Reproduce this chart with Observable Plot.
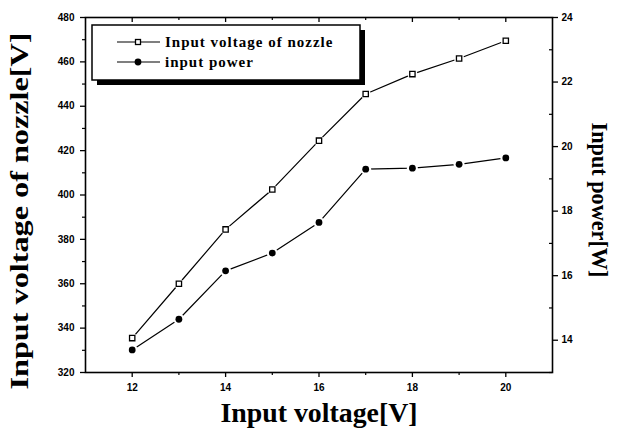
<!DOCTYPE html>
<html><head><meta charset="utf-8">
<script src="https://cdn.jsdelivr.net/npm/d3@7"></script>
<script src="https://cdn.jsdelivr.net/npm/@observablehq/plot@0.6"></script>
<style>body{margin:0;background:#fff}</style>
</head><body><div id="chart"></div>
<script>
const inputVoltage = [12, 13, 14, 15, 16, 17, 18, 19, 20];
const nozzleVoltage = [335.5, 360, 384.5, 402.5, 424.5, 445.5, 454.5, 461.5, 469.5];
const inputPower = [13.7, 14.65, 16.15, 16.7, 17.65, 19.3, 19.33, 19.45, 19.65];
const seriesNames = ["Input voltage of nozzle", "input power"];
const xTicks = [12, 14, 16, 18, 20];
const xMinorTicks = [13, 15, 17, 19];
const leftTicks = [320, 340, 360, 380, 400, 420, 440, 460, 480];
const leftMinorTicks = [330, 350, 370, 390, 410, 430, 450, 470];
const rightTicks = [14, 16, 18, 20, 22, 24];
const rightMinorTicks = [13, 15, 17, 19, 21, 23];
const xDomain = [11, 21];
const leftDomain = [320, 480];
const rightDomain = [13, 24];
const titles = {x: "Input voltage[V]", left: "Input voltage of nozzle[V]", right: "Input power[W]"};

const toLeft = v => leftDomain[0] + (v - rightDomain[0]) * (leftDomain[1] - leftDomain[0]) / (rightDomain[1] - rightDomain[0]);
const fromLeft = v => rightDomain[0] + (v - leftDomain[0]) * (rightDomain[1] - rightDomain[0]) / (leftDomain[1] - leftDomain[0]);

const nozzle = inputVoltage.map((x, i) => ({x, y: nozzleVoltage[i]}));
const power = inputVoltage.map((x, i) => ({x, y: toLeft(inputPower[i])}));

const serif = "'Liberation Serif', 'Times New Roman', serif";
const W = 617, H = 436, mL = 85, mR = 65, mT = 17, mB = 64;
const frameW = W - mL - mR, frameH = H - mT - mB;

const chart = Plot.plot({
  width: W, height: H,
  marginLeft: mL, marginRight: mR, marginTop: mT, marginBottom: mB,
  style: {fontFamily: "'Liberation Sans', Arial, sans-serif", fontSize: "10px", fontWeight: "bold", background: "#fff", color: "#000"},
  x: {domain: xDomain},
  y: {domain: leftDomain},
  marks: [
    Plot.frame({stroke: "#000", strokeWidth: 1.6}),
    Plot.axisX(xTicks, {anchor: "bottom", tickSize: 5, tickPadding: 6, strokeWidth: 1.3, label: null}),
    Plot.axisX(xMinorTicks, {anchor: "bottom", tickSize: 3, tickFormat: () => "", strokeWidth: 1.2, label: null}),
    // inward ticks on the top edge
    Plot.tickX(xTicks, {x: d => d, insetBottom: frameH - 5, stroke: "#000", strokeWidth: 1.3}),
    Plot.tickX(xMinorTicks, {x: d => d, insetBottom: frameH - 3, stroke: "#000", strokeWidth: 1.2}),
    Plot.axisY(leftTicks, {anchor: "left", tickSize: 5, tickPadding: 6, strokeWidth: 1.3, label: null}),
    Plot.axisY(leftMinorTicks, {anchor: "left", tickSize: 3, tickFormat: () => "", strokeWidth: 1.2, label: null}),
    Plot.axisY(rightTicks.map(toLeft), {anchor: "right", tickSize: 5, tickPadding: 4, strokeWidth: 1.3, label: null, tickFormat: d => Math.round(fromLeft(d))}),
    // inward minor ticks on the right edge
    Plot.tickY(rightMinorTicks.map(toLeft), {y: d => d, insetLeft: frameW - 3, stroke: "#000", strokeWidth: 1.2}),
    Plot.line(nozzle, {x: "x", y: "y", stroke: "#000", strokeWidth: 1.2}),
    Plot.line(power, {x: "x", y: "y", stroke: "#000", strokeWidth: 1.2}),
    Plot.dot(nozzle, {x: "x", y: "y", r: 5, fill: "#fff", stroke: "none"}),
    Plot.dot(power, {x: "x", y: "y", r: 5.5, fill: "#fff", stroke: "none"}),
    Plot.dot(nozzle, {x: "x", y: "y", symbol: "square", r: 3, fill: "#fff", stroke: "#000", strokeWidth: 1.3}),
    Plot.dot(power, {x: "x", y: "y", symbol: "circle", r: 3.4, fill: "#000", stroke: "none"}),
    Plot.text([titles.x], {frameAnchor: "bottom", dy: 49, text: d => d, textAnchor: "middle", fontFamily: serif, fontSize: 27, fontWeight: "bold", className: "title-x"}),
    Plot.text([titles.left], {frameAnchor: "left", dx: -66, dy: 16, rotate: -90, textAnchor: "middle", text: d => d, fontFamily: serif, fontSize: 26, fontWeight: "bold", className: "title-left"}),
    Plot.text([titles.right], {frameAnchor: "right", dx: 47, dy: 5, rotate: 90, textAnchor: "middle", text: d => d, fontFamily: serif, fontSize: 23, fontWeight: "bold", className: "title-right"})
  ]
});

// stretch titles to match the reference text lengths
const svg = d3.select(chart);
svg.select(".title-x text").attr("textLength", 197).attr("lengthAdjust", "spacingAndGlyphs");
svg.select(".title-left text").attr("textLength", 357).attr("lengthAdjust", "spacingAndGlyphs");
svg.select(".title-right text").attr("textLength", 155).attr("lengthAdjust", "spacingAndGlyphs");

// legend box
const lg = svg.append("g").attr("transform", "translate(92,25)").attr("text-anchor", "start");
lg.append("rect").attr("x", 5).attr("y", 5).attr("width", 268).attr("height", 55).attr("fill", "#000");
lg.append("rect").attr("x", 0).attr("y", 0).attr("width", 268).attr("height", 55).attr("fill", "#fff").attr("stroke", "#000").attr("stroke-width", 1.5);
seriesNames.forEach((name, i) => {
  const yy = 17 + i * 20;
  lg.append("line").attr("x1", 25).attr("x2", 68).attr("y1", yy).attr("y2", yy).attr("stroke", "#000").attr("stroke-width", 1.2);
  if (i === 0) {
    lg.append("rect").attr("x", 43.5).attr("y", yy - 2.5).attr("width", 5).attr("height", 5).attr("fill", "#fff").attr("stroke", "#000").attr("stroke-width", 1.3);
  } else {
    lg.append("circle").attr("cx", 46).attr("cy", yy).attr("r", 3.4).attr("fill", "#000");
  }
  lg.append("text").attr("x", 73).attr("y", yy).attr("dy", "0.32em").attr("text-anchor", "start").attr("font-family", serif).attr("font-size", 15).attr("font-weight", "bold").attr("letter-spacing", 1).text(name);
});

document.getElementById("chart").appendChild(chart);
</script>
</body></html>
